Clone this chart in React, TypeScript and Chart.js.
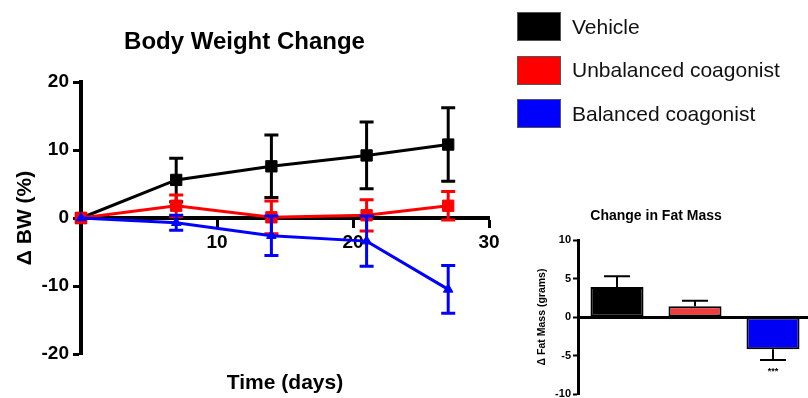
import React, { useEffect, useRef } from 'react';
import { Chart, registerables } from 'chart.js';

Chart.register(...registerables);

const FONT = '"Liberation Sans", Arial, Helvetica, sans-serif';

// ---- Body weight change (line chart) ----
const days = [0, 7, 14, 21, 27];
const vehicleBW = [0, 5.6, 7.6, 9.2, 10.8];
const vehicleErr = [0, 3.2, 4.6, 4.9, 5.4];
const unbalancedBW = [0, 1.8, 0.1, 0.4, 1.8];
const unbalancedErr = [0, 1.6, 2.4, 2.3, 2.1];
const balancedBW = [0, -0.7, -2.6, -3.4, -10.5];
const balancedErr = [0, 1.1, 2.9, 3.7, 3.5];
const bwTickValues = [-20, -10, 0, 10, 20];
const dayTickValues = [0, 10, 20, 30];

// ---- Change in fat mass (bar chart) ----
const groups = ['Vehicle', 'Unbalanced coagonist', 'Balanced coagonist'];
const legendColors = ['#000000', '#ff0000', '#0000ff'];
const fatMass = [3.9, 1.4, -4.2];
const fatMassErr = [1.4, 0.7, 1.4];
const fatMassSig = ['', '', '***'];
const barColors = ['#000000', '#f03c3c', '#0000f5'];
const fatTickValues = [-10, -5, 0, 5, 10];

const lineErrorBars = {
  id: 'lineErrorBars',
  afterDatasetDraw(chart: any, args: any) {
    const ds = chart.data.datasets[args.index];
    const errs = ds.errors;
    if (!errs) return;
    const y = chart.scales.y;
    const ctx = chart.ctx;
    ctx.save();
    ctx.strokeStyle = ds.borderColor;
    ctx.lineWidth = 3;
    args.meta.data.forEach((pt: any, i: number) => {
      const e = errs[i];
      if (!e) return;
      const v = ds.data[i].y;
      const top = y.getPixelForValue(v + e);
      const bot = y.getPixelForValue(v - e);
      const x = pt.x;
      const hw = 7;
      ctx.beginPath();
      ctx.moveTo(x, top);
      ctx.lineTo(x, bot);
      ctx.moveTo(x - hw, top);
      ctx.lineTo(x + hw, top);
      ctx.moveTo(x - hw, bot);
      ctx.lineTo(x + hw, bot);
      ctx.stroke();
    });
    ctx.restore();
  },
};

const barErrorBars = {
  id: 'barErrorBars',
  afterDatasetDraw(chart: any, args: any) {
    const ds = chart.data.datasets[args.index];
    const y = chart.scales.y;
    const ctx = chart.ctx;
    ctx.save();
    ctx.strokeStyle = '#000';
    ctx.fillStyle = '#000';
    ctx.lineWidth = 2;
    args.meta.data.forEach((bar: any, i: number) => {
      const v = ds.data[i];
      const e = ds.errors[i];
      const s = v >= 0 ? 1 : -1;
      const y0 = y.getPixelForValue(v);
      const y1 = y.getPixelForValue(v + s * e);
      const x = bar.x;
      const hw = 13;
      ctx.beginPath();
      ctx.moveTo(x, y0);
      ctx.lineTo(x, y1);
      ctx.moveTo(x - hw, y1);
      ctx.lineTo(x + hw, y1);
      ctx.stroke();
      const sig = ds.significance[i];
      if (sig) {
        ctx.font = `bold 9px ${FONT}`;
        ctx.textAlign = 'center';
        ctx.textBaseline = 'middle';
        ctx.fillText(sig, x, y1 + 11);
      }
    });
    ctx.restore();
  },
};

function App() {
  const lineRef = useRef<HTMLCanvasElement>(null);
  const barRef = useRef<HTMLCanvasElement>(null);

  useEffect(() => {
    document.body.style.margin = '0';
    document.body.style.overflow = 'hidden';
    Chart.defaults.font.family = FONT;
    Chart.defaults.color = '#000';

    const mk = (xs: number[], ys: number[]) => xs.map((x, i) => ({ x, y: ys[i] }));

    const lineChart = new Chart(lineRef.current as HTMLCanvasElement, {
      type: 'line',
      data: {
        datasets: [
          {
            label: groups[0],
            data: mk(days, vehicleBW),
            errors: vehicleErr,
            borderColor: '#000000',
            backgroundColor: '#000000',
            borderWidth: 3,
            pointStyle: 'rect',
            pointRadius: 8,
            pointBorderWidth: 1,
            order: 2,
            clip: false,
          } as any,
          {
            label: groups[1],
            data: mk(days, unbalancedBW),
            errors: unbalancedErr,
            borderColor: '#ff0000',
            backgroundColor: '#ff0000',
            borderWidth: 3,
            pointStyle: 'rect',
            pointRadius: 8,
            pointBorderWidth: 1,
            order: 1,
            clip: false,
          } as any,
          {
            label: groups[2],
            data: mk(days, balancedBW),
            errors: balancedErr,
            borderColor: '#0000ff',
            backgroundColor: '#0000ff',
            borderWidth: 3,
            pointStyle: 'triangle',
            pointRadius: 5.5,
            pointBorderWidth: 1,
            order: 0,
            clip: false,
          } as any,
        ],
      },
      options: {
        animation: false,
        responsive: false,
        layout: { padding: { left: 0, right: 67, top: 0, bottom: 0 } },
        plugins: {
          legend: { display: false },
          tooltip: { enabled: false },
          title: {
            display: true,
            text: 'Body Weight Change',
            fullSize: true,
            font: { size: 24, weight: 'bold', family: FONT },
            color: '#000',
            padding: { top: 27.6, bottom: 25.6 },
          },
          subtitle: {
            display: true,
            position: 'bottom',
            text: 'Time (days)',
            fullSize: false,
            font: { size: 21, weight: 'bold', family: FONT },
            color: '#000',
            padding: { top: 16.4, bottom: 2.4 },
          },
        },
        scales: {
          x: {
            type: 'linear',
            min: 0,
            max: 30,
            position: { y: 0 } as any,
            afterBuildTicks: (s: any) => {
              s.ticks = dayTickValues.map((v) => ({ value: v }));
            },
            afterFit: (s: any) => {
              s.paddingLeft = 0;
              s.paddingRight = 0;
            },
            ticks: {
              autoSkip: false,
              maxRotation: 0,
              padding: 5,
              font: { size: 19, weight: 'bold', family: FONT },
              color: '#000',
              callback: (v: any) => (v === 0 ? '' : String(v)),
            },
            grid: {
              display: true,
              drawOnChartArea: false,
              drawTicks: true,
              tickLength: 8,
              tickWidth: 3,
              tickColor: '#000',
              color: '#000',
            },
            border: { display: true, width: 4, color: '#000' },
          },
          y: {
            type: 'linear',
            min: -20,
            max: 20,
            afterBuildTicks: (s: any) => {
              s.ticks = bwTickValues.map((v) => ({ value: v }));
            },
            afterFit: (s: any) => {
              s.width = 81;
              s.paddingTop = 0;
              s.paddingBottom = 0;
            },
            ticks: {
              padding: 4,
              font: { size: 19, weight: 'bold', family: FONT },
              color: '#000',
            },
            grid: {
              display: true,
              drawOnChartArea: false,
              drawTicks: true,
              tickLength: 8,
              tickWidth: 3,
              tickColor: '#000',
              color: '#000',
            },
            border: { display: true, width: 4, color: '#000' },
            title: {
              display: true,
              text: 'Δ BW (%)',
              font: { size: 21, weight: 'bold', family: FONT },
              color: '#000',
              padding: { top: 12.4, bottom: 0 },
            },
          },
        },
      } as any,
      plugins: [lineErrorBars],
    });

    const barChart = new Chart(barRef.current as HTMLCanvasElement, {
      type: 'bar',
      data: {
        labels: groups,
        datasets: [
          {
            label: 'Change in Fat Mass',
            data: fatMass,
            errors: fatMassErr,
            significance: fatMassSig,
            backgroundColor: barColors,
            borderColor: '#000',
            borderWidth: 2,
            borderSkipped: false,
            barPercentage: 0.68,
            categoryPercentage: 1,
          } as any,
        ],
      },
      options: {
        animation: false,
        responsive: false,
        layout: { padding: { left: 0, right: 52, top: 0, bottom: 4 } },
        plugins: {
          legend: { display: false },
          tooltip: { enabled: false },
          title: {
            display: true,
            text: 'Change in Fat Mass',
            fullSize: true,
            font: { size: 14, weight: 'bold', family: FONT },
            color: '#000',
            padding: { top: 11.6, bottom: 15.6 },
          },
        },
        scales: {
          x: {
            type: 'category',
            position: { y: 0 } as any,
            offset: true,
            afterFit: (s: any) => {
              s.paddingLeft = 0;
              s.paddingRight = 0;
            },
            ticks: { display: false },
            grid: { display: false },
            border: { display: true, width: 3, color: '#000' },
          },
          y: {
            type: 'linear',
            min: -10,
            max: 10,
            afterBuildTicks: (s: any) => {
              s.ticks = fatTickValues.map((v) => ({ value: v }));
            },
            afterFit: (s: any) => {
              s.width = 78;
              s.paddingTop = 0;
              s.paddingBottom = 0;
            },
            ticks: {
              padding: 2,
              font: { size: 11, weight: 'bold', family: FONT },
              color: '#000',
            },
            grid: {
              display: true,
              drawOnChartArea: false,
              drawTicks: true,
              tickLength: 5,
              tickWidth: 2,
              tickColor: '#000',
              color: '#000',
            },
            border: { display: true, width: 3, color: '#000' },
            title: {
              display: true,
              text: 'Δ Fat Mass (grams)',
              font: { size: 10.5, weight: 'bold', family: FONT },
              color: '#000',
              padding: { top: 35.7, bottom: 0 },
            },
          },
        },
      } as any,
      plugins: [barErrorBars],
    });

    return () => {
      lineChart.destroy();
      barChart.destroy();
    };
  }, []);

  return (
    <div
      style={{
        position: 'relative',
        width: 808,
        height: 398,
        overflow: 'hidden',
        background: '#fff',
      }}
    >
      <canvas
        ref={lineRef}
        width={556}
        height={398}
        style={{ position: 'absolute', left: 0, top: 0, width: 556, height: 398 }}
      />
      <canvas
        ref={barRef}
        width={364}
        height={202}
        style={{ position: 'absolute', left: 500, top: 196, width: 364, height: 202 }}
      />
      {groups.map((g, i) => (
        <div
          key={g}
          style={{
            position: 'absolute',
            left: 517,
            top: 12 + i * 43.5,
            display: 'flex',
            alignItems: 'center',
          }}
        >
          <div
            style={{
              width: 44,
              height: 29,
              background: legendColors[i],
              border: '1px solid #555',
              boxSizing: 'border-box',
            }}
          />
          <span
            style={{
              marginLeft: 11,
              font: `21px ${FONT}`,
              color: '#111',
              whiteSpace: 'nowrap',
            }}
          >
            {g}
          </span>
        </div>
      ))}
    </div>
  );
}

export default App;
